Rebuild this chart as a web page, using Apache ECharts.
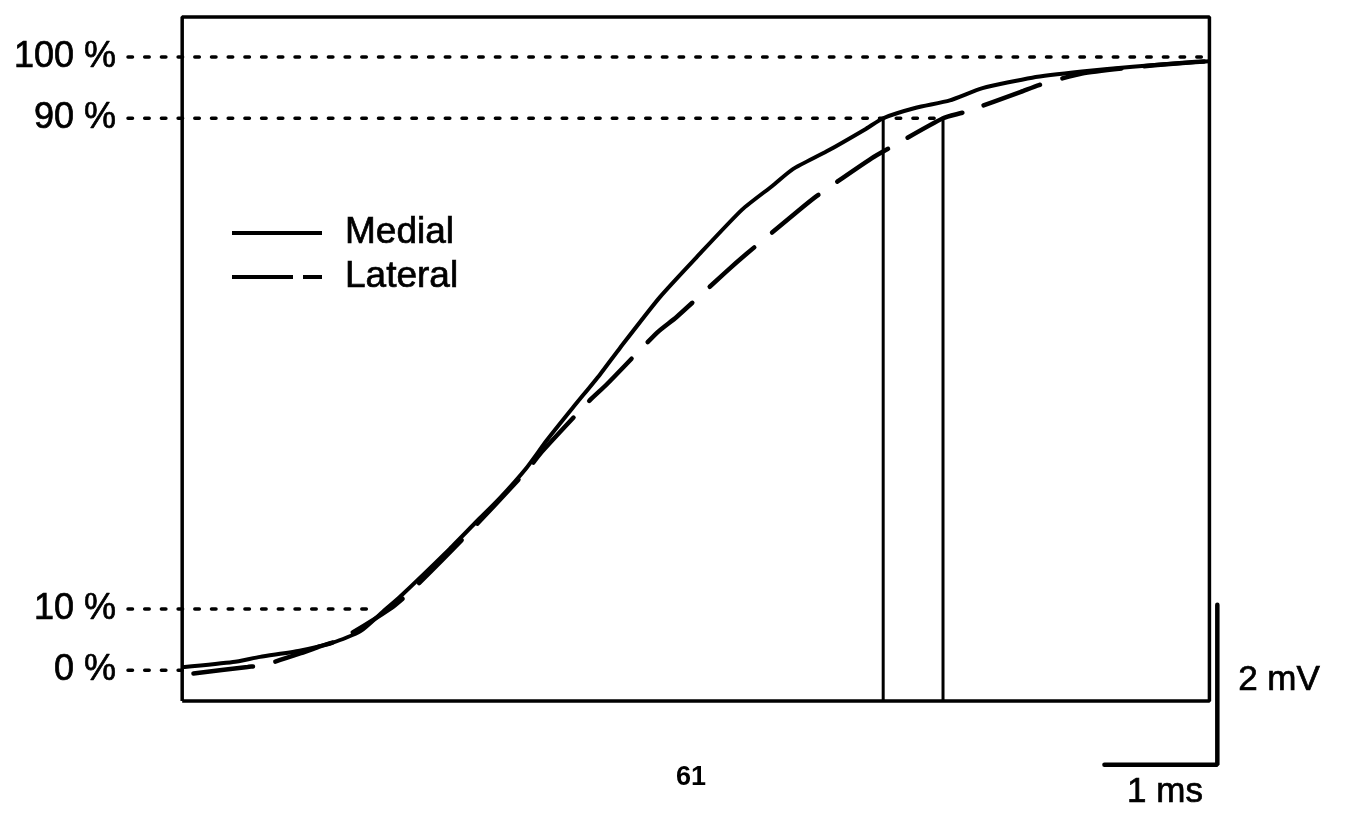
<!DOCTYPE html>
<html>
<head>
<meta charset="utf-8">
<title>Activation rise: medial vs lateral</title>
<script src="https://cdn.jsdelivr.net/npm/echarts@6/dist/echarts.min.js"></script>
<style>
  html, body { margin: 0; padding: 0; background: #fff; }
  #chart { width: 1346px; height: 814px; }
</style>
</head>
<body>
<div id="chart"></div>
<script>
// Normalised upstroke (% of full amplitude) against time (ms)
const medialT = [0, 0.45, 0.69, 1.04, 1.34, 1.58, 1.78, 1.93, 2.37, 2.61, 2.81, 3.05, 3.23, 3.46, 3.70, 3.88, 4.23, 4.56, 4.96, 5.23, 5.41, 5.71, 6.06, 6.21, 6.50, 6.80, 7.09, 7.53, 7.97, 8.42, 8.86, 9.10];
const medialV = [0.5, 1.35, 2.2, 3.2, 4.55, 6.4, 9.6, 12.0, 19.8, 24.3, 28.0, 33.0, 37.5, 42.8, 48.2, 52.6, 60.8, 67.4, 75.1, 79.0, 81.7, 84.6, 88.3, 90.0, 91.7, 92.9, 94.9, 96.6, 97.6, 98.4, 99.0, 99.3];

const lateralT = [0.10, 0.58, 0.73, 1.07, 1.22, 1.40, 1.84, 2.02, 2.49, 3.05, 3.19, 3.61, 3.76, 4.21, 4.38, 4.82, 5.00, 5.45, 5.62, 6.11, 6.27, 6.74, 6.93, 7.43, 7.59, 7.97, 8.42, 8.86, 9.10];
const lateralV = [-0.5, 0.55, 0.9, 2.9, 3.9, 5.0, 10.0, 12.8, 21.5, 32.5, 35.7, 44.0, 46.6, 55.1, 57.6, 65.0, 67.9, 74.8, 77.3, 83.5, 85.2, 90.0, 91.0, 94.3, 95.4, 97.3, 98.3, 99.0, 99.3];

// Reference levels and the time each trace reaches 90 %
const levels = [0, 10, 90, 100];
const levelLabels = ['0 %', '10 %', '90 %', '100 %'];
const rise90 = { Medial: 6.21, Lateral: 6.74 };

// Calibration
const scaleMs = 1;
const scaleMv = 2;
const amplitudeMv = 7.66;          // full 0-100 % swing in mV
const recordLabel = '61';

// Axis extents (ms, %) and the recording window drawn as a frame
const T_MIN = -0.48, T_MAX = 9.3;
const V_MIN = -16, V_MAX = 106.5;
const FRAME = { t0: 0, t1: 9.1, v0: -5, v1: V_MAX };
const SCALE_CORNER = { t: 9.17, v: -15.4 };

const zip = (a, b) => a.map((x, i) => [x, b[i]]);

// time at which a trace first reaches a level (linear between samples)
function crossing(ts, vs, level) {
  for (let i = 1; i < ts.length; i++) {
    if (vs[i] >= level) {
      const f = (level - vs[i - 1]) / (vs[i] - vs[i - 1]);
      return ts[i - 1] + f * (ts[i] - ts[i - 1]);
    }
  }
  return ts[ts.length - 1];
}

// where each dotted guide stops
const levelEnds = [FRAME.t0, crossing(medialT, medialV, 10) - 0.12, rise90.Lateral, FRAME.t1];

const FONT = '"Liberation Sans", Arial, Helvetica, sans-serif';
const INK = '#000';

const plain = (extra) => Object.assign({
  type: 'line', symbol: 'none', silent: true, clip: false, animation: false, color: INK
}, extra);

const series = [];

// plot frame
series.push(plain({
  name: 'frame',
  data: [[FRAME.t0, FRAME.v0], [FRAME.t0, FRAME.v1], [FRAME.t1, FRAME.v1], [FRAME.t1, FRAME.v0], [FRAME.t0, FRAME.v0]],
  lineStyle: { color: INK, width: 3.5 },
  z: 1
}));

// dotted guides at 0, 10, 90, 100 %
levels.forEach((lv, i) => {
  series.push(plain({
    name: 'guide' + lv,
    data: [[T_MIN, lv], [levelEnds[i], lv]],
    lineStyle: { color: INK, width: 3.5, type: [4.5, 12.2], cap: 'round' },
    z: 2
  }));
});

// 90 % rise markers
Object.keys(rise90).forEach((k) => {
  series.push(plain({
    name: 'rise90' + k,
    data: [[rise90[k], FRAME.v0], [rise90[k], 90]],
    lineStyle: { color: INK, width: 3 },
    z: 3
  }));
});

// traces
series.push(plain({
  name: 'Medial',
  data: zip(medialT, medialV),
  smooth: 0.2,
  lineStyle: { color: INK, width: 4 },
  z: 5
}));
series.push(plain({
  name: 'Lateral',
  data: zip(lateralT, lateralV),
  smooth: 0.2,
  lineStyle: { color: INK, width: 4.5, type: [60, 23], cap: 'round' },
  z: 4
}));

// calibration bar: 1 ms horizontal, 2 mV vertical
const barHeight = scaleMv / amplitudeMv * 100;
series.push(plain({
  name: 'scalebar',
  data: [
    [SCALE_CORNER.t - scaleMs, SCALE_CORNER.v],
    [SCALE_CORNER.t, SCALE_CORNER.v],
    [SCALE_CORNER.t, SCALE_CORNER.v + barHeight]
  ],
  lineStyle: { color: INK, width: 4.5, cap: 'round' },
  z: 3
}));

const heavy = { textBorderColor: INK, textBorderWidth: 0.7 };

const option = {
  backgroundColor: '#fff',
  animation: false,
  color: [INK],
  grid: { left: 128, right: 114, top: 17, bottom: 45.5, containLabel: false },
  xAxis: {
    type: 'value', min: T_MIN, max: T_MAX, show: false
  },
  yAxis: {
    type: 'value', min: V_MIN, max: V_MAX,
    axisLine: { show: false },
    axisTick: { show: false },
    splitLine: { show: false },
    axisLabel: Object.assign({
      customValues: levels,
      margin: 12,
      color: INK,
      fontFamily: FONT,
      fontSize: 36,
      formatter: (v) => levelLabels[levels.indexOf(v)] || ''
    }, heavy)
  },
  legend: {
    orient: 'vertical',
    left: 232,
    top: 213,
    padding: 0,
    itemGap: 4,
    itemWidth: 90,
    itemHeight: 4,
    selectedMode: false,
    itemStyle: { color: INK, borderWidth: 0 },
    textStyle: Object.assign({
      color: INK, fontFamily: FONT, fontSize: 37, lineHeight: 40,
      padding: [0, 0, 0, 18]
    }, heavy),
    data: [
      { name: 'Medial', icon: 'path://M0,0H90V4H0Z' },
      { name: 'Lateral', icon: 'path://M0,0H61V4H0Z M71,0H90V4H71Z' }
    ]
  },
  graphic: [
    {
      type: 'text', x: 1279, y: 680,
      style: { text: scaleMv + ' mV', fill: INK, stroke: INK, lineWidth: 0.7, font: '35px ' + FONT, align: 'center', verticalAlign: 'middle' }
    },
    {
      type: 'text', x: 1165, y: 792,
      style: { text: scaleMs + ' ms', fill: INK, stroke: INK, lineWidth: 0.7, font: '35px ' + FONT, align: 'center', verticalAlign: 'middle' }
    },
    {
      type: 'text', x: 691, y: 778,
      style: { text: recordLabel, fill: INK, font: 'bold 27px ' + FONT, align: 'center', verticalAlign: 'middle' }
    }
  ],
  series: series
};

const chart = echarts.init(document.getElementById('chart'), null, { renderer: 'canvas' });
chart.setOption(option);
</script>
</body>
</html>
